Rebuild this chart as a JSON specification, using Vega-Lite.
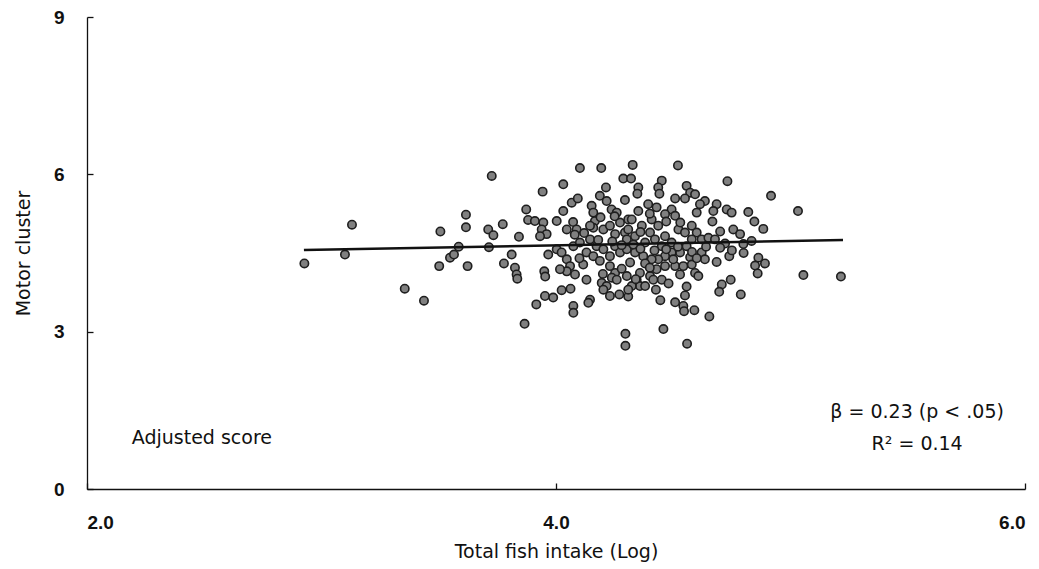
{
  "$schema": "https://vega.github.io/schema/vega-lite/v6.json",
  "width": 938,
  "height": 472,
  "autosize": {"type": "none"},
  "padding": {"left": 87, "top": 17, "right": 14, "bottom": 80},
  "background": "white",
  "config": {
    "view": {"stroke": null},
    "font": "DejaVu Sans",
    "axis": {"grid": false, "domainColor": "#111", "tickColor": "#111", "domainWidth": 1.3, "tickWidth": 1.3, "labelColor": "#111", "titleColor": "#111", "labelFont": "Liberation Sans", "titleFont": "DejaVu Sans", "titleFontWeight": "normal"}
  },
  "datasets": {
    "pts": [
      {"x":2.927,"y":4.30},{"x":3.100,"y":4.47},{"x":3.130,"y":5.04},{"x":3.355,"y":3.82},{"x":3.437,"y":3.59},
      {"x":3.507,"y":4.91},{"x":3.502,"y":4.25},{"x":3.616,"y":5.23},{"x":3.616,"y":4.99},{"x":3.548,"y":4.41},
      {"x":3.565,"y":4.47},{"x":3.585,"y":4.62},{"x":3.623,"y":4.25},{"x":3.711,"y":4.95},{"x":3.733,"y":4.84},
      {"x":3.714,"y":4.61},{"x":3.726,"y":5.97},{"x":3.773,"y":5.05},{"x":3.811,"y":4.47},{"x":3.778,"y":4.30},
      {"x":3.825,"y":4.22},{"x":3.832,"y":4.09},{"x":3.835,"y":4.01},{"x":3.842,"y":4.81},{"x":3.873,"y":5.33},
      {"x":3.881,"y":5.13},{"x":3.943,"y":5.67},{"x":4.031,"y":5.81},{"x":4.102,"y":6.12},{"x":3.866,"y":3.15},
      {"x":3.916,"y":3.52},{"x":3.953,"y":3.68},{"x":3.988,"y":3.65},{"x":4.024,"y":3.79},{"x":4.062,"y":3.82},
      {"x":4.074,"y":3.49},{"x":4.074,"y":3.36},{"x":3.950,"y":4.15},{"x":3.954,"y":4.05},{"x":3.910,"y":5.11},
      {"x":3.946,"y":5.08},{"x":3.939,"y":4.95},{"x":3.960,"y":4.86},{"x":3.932,"y":4.82},{"x":4.003,"y":5.11},
      {"x":4.031,"y":5.30},{"x":4.067,"y":5.46},{"x":4.093,"y":5.54},{"x":4.046,"y":4.95},{"x":4.073,"y":5.09},
      {"x":4.088,"y":4.95},{"x":3.967,"y":4.47},{"x":4.003,"y":4.57},{"x":4.024,"y":4.51},{"x":4.046,"y":4.38},
      {"x":4.060,"y":4.25},{"x":4.046,"y":4.15},{"x":4.017,"y":4.19},{"x":4.081,"y":4.09},{"x":4.074,"y":4.63},
      {"x":4.193,"y":6.12},{"x":4.327,"y":6.18},{"x":4.520,"y":6.17},{"x":4.287,"y":5.92},{"x":4.320,"y":5.92},
      {"x":4.351,"y":5.75},{"x":4.347,"y":5.63},{"x":4.451,"y":5.88},{"x":4.436,"y":5.75},{"x":4.441,"y":5.63},
      {"x":4.557,"y":5.78},{"x":4.572,"y":5.65},{"x":4.593,"y":5.62},{"x":4.550,"y":5.54},{"x":4.508,"y":5.54},
      {"x":4.731,"y":5.87},{"x":4.917,"y":5.59},{"x":5.032,"y":5.30},{"x":4.213,"y":5.75},{"x":4.294,"y":5.51},
      {"x":4.187,"y":5.59},{"x":4.216,"y":5.49},{"x":4.237,"y":5.33},{"x":4.259,"y":5.27},{"x":4.152,"y":5.40},
      {"x":4.159,"y":5.27},{"x":4.166,"y":5.11},{"x":4.159,"y":4.98},{"x":4.635,"y":5.49},{"x":4.614,"y":5.43},
      {"x":4.600,"y":5.27},{"x":4.685,"y":5.43},{"x":4.671,"y":5.30},{"x":4.728,"y":5.33},{"x":4.749,"y":5.27},
      {"x":4.820,"y":5.28},{"x":4.667,"y":5.10},{"x":4.846,"y":5.10},{"x":4.884,"y":4.96},{"x":4.756,"y":4.95},
      {"x":4.785,"y":4.86},{"x":4.799,"y":4.67},{"x":4.834,"y":4.73},{"x":4.739,"y":4.44},{"x":4.685,"y":4.33},
      {"x":4.572,"y":4.42},{"x":4.863,"y":4.41},{"x":4.891,"y":4.30},{"x":4.849,"y":4.26},{"x":4.860,"y":4.11},
      {"x":5.055,"y":4.08},{"x":5.215,"y":4.05},{"x":4.745,"y":3.99},{"x":4.707,"y":3.90},{"x":4.696,"y":3.76},
      {"x":4.788,"y":3.71},{"x":4.654,"y":3.29},{"x":4.557,"y":3.86},{"x":4.550,"y":3.69},{"x":4.508,"y":3.56},
      {"x":4.543,"y":3.49},{"x":4.546,"y":3.39},{"x":4.590,"y":3.41},{"x":4.445,"y":3.60},{"x":4.458,"y":3.05},
      {"x":4.559,"y":2.77},{"x":4.296,"y":2.96},{"x":4.296,"y":2.73},{"x":4.426,"y":3.80},{"x":4.344,"y":3.99},
      {"x":4.358,"y":3.87},{"x":4.323,"y":3.87},{"x":4.230,"y":3.68},{"x":4.270,"y":3.71},{"x":4.308,"y":3.67},
      {"x":4.195,"y":3.93},{"x":4.216,"y":3.87},{"x":4.202,"y":3.80},{"x":4.252,"y":4.12},{"x":4.238,"y":4.03},
      {"x":4.145,"y":3.61},{"x":4.138,"y":3.55},{"x":4.451,"y":3.99},{"x":4.529,"y":4.09},{"x":4.401,"y":4.06},
      {"x":4.415,"y":3.99},{"x":4.130,"y":3.99},{"x":4.116,"y":4.28},{"x":4.102,"y":4.70},{"x":4.145,"y":4.76},
      {"x":4.173,"y":4.63},{"x":4.202,"y":4.57},{"x":4.130,"y":4.51},{"x":4.159,"y":4.44},{"x":4.187,"y":4.35},
      {"x":4.230,"y":4.44},{"x":4.252,"y":4.63},{"x":4.273,"y":4.51},{"x":4.302,"y":4.57},{"x":4.316,"y":4.32},
      {"x":4.230,"y":4.25},{"x":4.259,"y":3.99},{"x":4.302,"y":4.06},{"x":4.308,"y":3.80},{"x":4.202,"y":4.95},
      {"x":4.230,"y":5.02},{"x":4.252,"y":4.86},{"x":4.273,"y":5.08},{"x":4.294,"y":4.89},{"x":4.308,"y":5.14},
      {"x":4.302,"y":4.76},{"x":4.145,"y":5.02},{"x":4.393,"y":5.43},{"x":4.429,"y":5.37},{"x":4.493,"y":5.33},
      {"x":4.465,"y":5.24},{"x":4.508,"y":5.21},{"x":4.351,"y":5.30},{"x":4.323,"y":5.14},{"x":4.308,"y":4.95},
      {"x":4.337,"y":4.82},{"x":4.366,"y":5.02},{"x":4.408,"y":5.14},{"x":4.436,"y":5.02},{"x":4.401,"y":4.89},
      {"x":4.380,"y":4.70},{"x":4.422,"y":4.76},{"x":4.465,"y":4.82},{"x":4.451,"y":4.63},{"x":4.493,"y":4.70},
      {"x":4.522,"y":4.95},{"x":4.550,"y":4.89},{"x":4.579,"y":5.02},{"x":4.600,"y":4.89},{"x":4.621,"y":4.76},
      {"x":4.650,"y":4.79},{"x":4.678,"y":4.76},{"x":4.579,"y":4.76},{"x":4.557,"y":4.63},{"x":4.529,"y":4.51},
      {"x":4.493,"y":4.51},{"x":4.465,"y":4.44},{"x":4.436,"y":4.38},{"x":4.408,"y":4.38},{"x":4.372,"y":4.44},
      {"x":4.337,"y":4.51},{"x":4.358,"y":4.12},{"x":4.429,"y":4.19},{"x":4.465,"y":4.25},{"x":4.508,"y":4.25},
      {"x":4.543,"y":4.25},{"x":4.579,"y":4.28},{"x":4.621,"y":4.51},{"x":4.635,"y":4.38},{"x":4.593,"y":4.12},
      {"x":4.607,"y":4.06},{"x":4.380,"y":3.87},{"x":4.700,"y":4.91},{"x":4.721,"y":4.68},
      {"x":4.12,"y":4.88},{"x":4.18,"y":4.75},{"x":4.24,"y":4.72},{"x":4.28,"y":4.65},{"x":4.33,"y":4.66},
      {"x":4.36,"y":4.58},{"x":4.42,"y":4.55},{"x":4.47,"y":4.57},{"x":4.52,"y":4.62},{"x":4.58,"y":4.52},
      {"x":4.64,"y":4.62},{"x":4.70,"y":4.60},{"x":4.40,"y":5.25},{"x":4.47,"y":5.10},{"x":4.53,"y":5.08},
      {"x":4.25,"y":5.20},{"x":4.19,"y":5.18},{"x":4.38,"y":4.30},{"x":4.50,"y":4.38},{"x":4.60,"y":4.40},
      {"x":4.28,"y":4.20},{"x":4.20,"y":4.10},{"x":4.40,"y":4.22},{"x":4.34,"y":4.00},{"x":4.48,"y":3.92},
      {"x":4.75,"y":4.55},{"x":4.80,"y":4.50},{"x":4.10,"y":4.40},{"x":4.08,"y":4.85},{"x":4.36,"y":4.90}
    ],
    "fit": [
      {"x": 2.925, "y": 4.556},
      {"x": 5.224, "y": 4.747}
    ],
    "notes": [
      {"x": 2.49, "y": 0.98, "label": "Adjusted score"},
      {"x": 5.54, "y": 1.47, "label": "β = 0.23 (p < .05)"},
      {"x": 5.54, "y": 0.86, "label": "R² = 0.14"}
    ]
  },
  "layer": [
    {
      "data": {"name": "pts"},
      "mark": {"type": "point", "shape": "circle", "filled": true, "size": 70, "fill": "#808080", "stroke": "#1e1e1e", "strokeWidth": 1.6, "opacity": 1},
      "encoding": {
        "x": {"field": "x", "type": "quantitative", "scale": {"domain": [2, 6], "nice": false, "zero": false},
          "axis": {"values": [2, 4, 6], "format": ".1f", "tickSize": -6, "labelPadding": 30, "labelFontSize": 19, "labelFontWeight": "bold", "title": "Total fish intake (Log)", "titleFontSize": 19, "titlePadding": 10}},
        "y": {"field": "y", "type": "quantitative", "scale": {"domain": [0, 9], "nice": false},
          "axis": {"values": [0, 3, 6, 9], "tickSize": -6, "labelPadding": 29, "labelFontSize": 19, "labelFontWeight": "bold", "title": "Motor cluster", "titleFontSize": 19, "titlePadding": 20}}
      }
    },
    {
      "data": {"name": "fit"},
      "mark": {"type": "line", "color": "#111", "strokeWidth": 2.6},
      "encoding": {
        "x": {"field": "x", "type": "quantitative"},
        "y": {"field": "y", "type": "quantitative"}
      }
    },
    {
      "data": {"name": "notes"},
      "mark": {"type": "text", "align": "center", "baseline": "middle", "fontSize": 19, "font": "DejaVu Sans", "color": "#111"},
      "encoding": {
        "x": {"field": "x", "type": "quantitative"},
        "y": {"field": "y", "type": "quantitative"},
        "text": {"field": "label"}
      }
    }
  ]
}
